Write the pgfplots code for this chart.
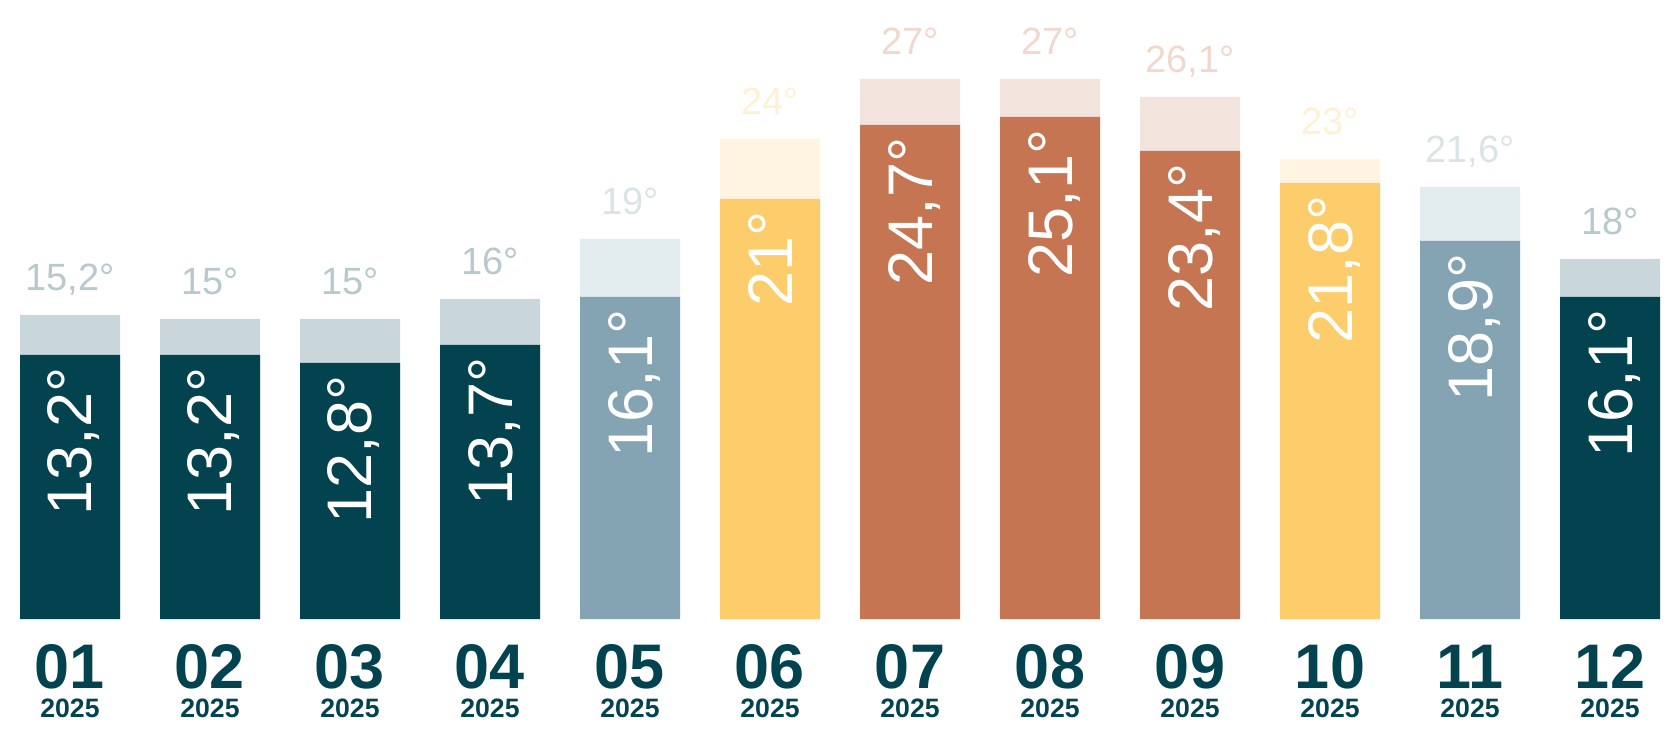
\documentclass[border=0pt]{standalone}
\usepackage{pgfplots}
\pgfplotsset{compat=1.18}
\usepackage{fontspec}
\setmainfont{Liberation Sans}
\definecolor{cdark}{RGB}{3,66,79}
\definecolor{cdarkL}{RGB}{201,215,220}
\definecolor{cdarkT}{RGB}{183,201,204}
\definecolor{cblue}{RGB}{132,163,179}
\definecolor{cblueL}{RGB}{227,236,239}
\definecolor{cblueT}{RGB}{218,228,232}
\definecolor{cyel}{RGB}{252,205,106}
\definecolor{cyelL}{RGB}{255,245,225}
\definecolor{cyelT}{RGB}{255,241,212}
\definecolor{cter}{RGB}{198,117,82}
\definecolor{cterL}{RGB}{243,227,221}
\definecolor{cterT}{RGB}{241,216,205}
\newcommand\valfont{\fontsize{31.5bp}{32bp}\selectfont}
\newcommand\maxfont{\fontsize{19bp}{20bp}\selectfont}
\pgfplotsset{
  maxbar/.style 2 args={ybar, bar width=50bp, bar shift=0pt, draw=none, fill=#1,
    nodes near coords={\pgfmathprintnumber[assume math mode=true,use comma,precision=1]{\pgfplotspointmeta}°},
    nodes near coords style={anchor=base, yshift=12bp, font=\maxfont, text=#2}},
  valbar/.style={ybar, bar width=50bp, bar shift=0pt, draw=none, fill=#1,
    nodes near coords={\pgfmathprintnumber[assume math mode=true,use comma,precision=1]{\pgfplotspointmeta}°},
    nodes near coords style={rotate=90, anchor=east, inner xsep=6bp, inner ysep=0pt, text depth=0pt, font=\valfont, text=white}}
}
\begin{document}
\begin{tikzpicture}
\begin{axis}[at={(0,0)}, anchor=south west, scale only axis,
  width=840bp, height=309.5bp,
  xmin=-0.5, xmax=11.5, ymin=0, ymax=30.95,
  axis line style={draw=none}, ytick=\empty,
  xtick={0,...,11},
  xticklabels={01,02,03,04,05,06,07,08,09,10,11,12},
  major tick length=0pt, tick style={draw=none},
  xticklabel style={anchor=base, yshift=-34.5bp, inner sep=0pt, text=cdark,
    font=\fontsize{31.5bp}{32bp}\selectfont\bfseries},
  extra x ticks={0,...,11},
  extra x tick labels={2025,2025,2025,2025,2025,2025,2025,2025,2025,2025,2025,2025},
  extra x tick style={xticklabel style={yshift=-14.5bp, font=\fontsize{13.3bp}{14bp}\selectfont\bfseries}},
  clip=false]
% dark group
\addplot[maxbar={cdarkL}{cdarkT}] coordinates {(0,15.2) (1,15) (2,15) (3,16) (11,18)};
\addplot[valbar=cdark] coordinates {(0,13.2) (1,13.2) (2,12.8) (3,13.7) (11,16.1)};
% blue group
\addplot[maxbar={cblueL}{cblueT}] coordinates {(4,19) (10,21.6)};
\addplot[valbar=cblue] coordinates {(4,16.1) (10,18.9)};
% yellow group
\addplot[maxbar={cyelL}{cyelT}] coordinates {(5,24) (9,23)};
\addplot[valbar=cyel] coordinates {(5,21) (9,21.8)};
% terracotta group
\addplot[maxbar={cterL}{cterT}] coordinates {(6,27) (7,27) (8,26.1)};
\addplot[valbar=cter] coordinates {(6,24.7) (7,25.1) (8,23.4)};
\end{axis}
\path (0,-65.5bp) rectangle (840bp,309.5bp);
\end{tikzpicture}
\end{document}
